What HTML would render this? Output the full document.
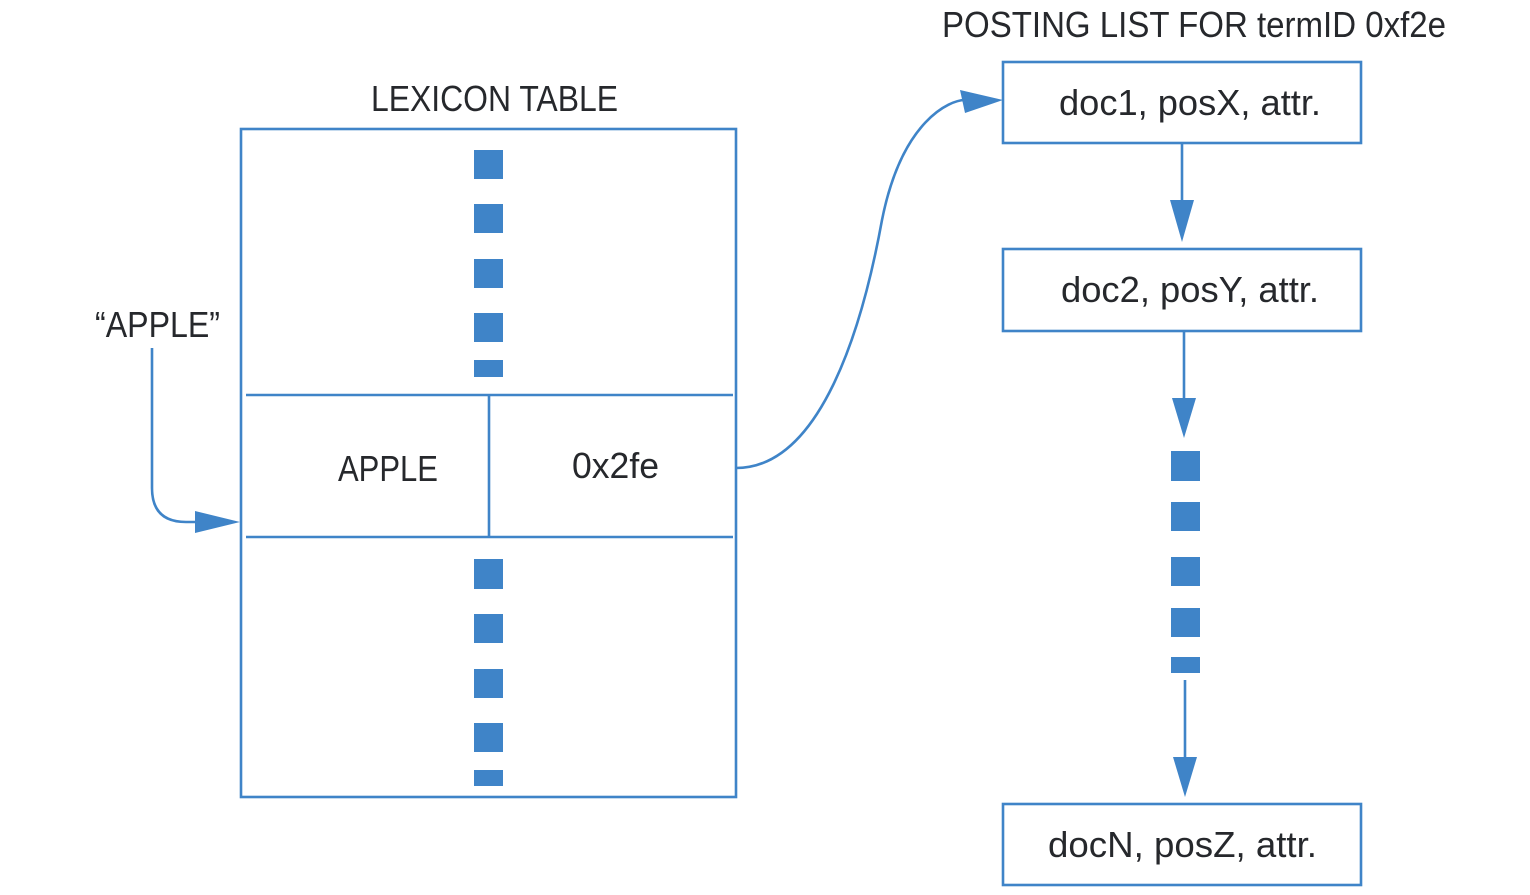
<!DOCTYPE html>
<html><head><meta charset="utf-8"><style>body{margin:0;background:#fff}svg{display:block}</style></head><body>
<svg width="1530" height="895" viewBox="0 0 1530 895" xmlns="http://www.w3.org/2000/svg" font-family="Liberation Sans, sans-serif" fill="#26282c">
<defs><marker id="a" markerWidth="10" markerHeight="10" refX="9" refY="5" orient="auto" markerUnits="userSpaceOnUse" viewBox="0 0 10 10"></marker></defs>
<g stroke="#3f84c8" stroke-width="2.6" fill="none">
<rect x="241" y="129" width="495" height="668"/>
<line x1="246" y1="395" x2="733" y2="395"/>
<line x1="246" y1="537" x2="733" y2="537"/>
<line x1="489" y1="395" x2="489" y2="537"/>
<rect x="1003" y="62" width="358" height="81"/>
<rect x="1003" y="249" width="358" height="82"/>
<rect x="1003" y="804" width="358" height="81"/>
<line x1="1182" y1="143" x2="1182" y2="205"/>
<line x1="1184" y1="331" x2="1184" y2="402"/>
<line x1="1185" y1="680" x2="1185" y2="762"/>
<path d="M152,348 V488 Q152,522 186,522 H200"/>
<path d="M736,468 C820,468 862,330 882,220 C902,120 950,100 965,100"/>
</g>
<g fill="#3f84c8">
<polygon points="1170,200 1194,200 1182,242"/>
<polygon points="1172,398 1196,398 1184,438"/>
<polygon points="1173,757 1197,757 1185,797"/>
<polygon points="195,511 195,533 240,522"/>
<polygon points="960,90 965,113 1003,100"/>
<rect x="474" y="150" width="29" height="29"/><rect x="474" y="204" width="29" height="29"/><rect x="474" y="259" width="29" height="29"/><rect x="474" y="313" width="29" height="29"/><rect x="474" y="360" width="29" height="17"/>
<rect x="474" y="559" width="29" height="30"/><rect x="474" y="614" width="29" height="29"/><rect x="474" y="669" width="29" height="29"/><rect x="474" y="723" width="29" height="29"/><rect x="474" y="770" width="29" height="16"/>
<rect x="1171" y="451" width="29" height="30"/><rect x="1171" y="502" width="29" height="29"/><rect x="1171" y="557" width="29" height="29"/><rect x="1171" y="608" width="29" height="29"/><rect x="1171" y="657" width="29" height="16"/>
</g>
<g font-size="36">
<text x="942" y="37" textLength="504" lengthAdjust="spacingAndGlyphs">POSTING LIST FOR termID 0xf2e</text>
<text x="371" y="111" textLength="247" lengthAdjust="spacingAndGlyphs">LEXICON TABLE</text>
<text x="95" y="337" textLength="125" lengthAdjust="spacingAndGlyphs">“APPLE”</text>
<text x="338" y="481" textLength="100" lengthAdjust="spacingAndGlyphs">APPLE</text>
<text x="572" y="478" textLength="87" lengthAdjust="spacingAndGlyphs">0x2fe</text>
<text x="1059" y="115" textLength="262" lengthAdjust="spacingAndGlyphs">doc1, posX, attr.</text>
<text x="1061" y="302" textLength="258" lengthAdjust="spacingAndGlyphs">doc2, posY, attr.</text>
<text x="1048" y="857" textLength="269" lengthAdjust="spacingAndGlyphs">docN, posZ, attr.</text>
</g>
</svg>
</body></html>
